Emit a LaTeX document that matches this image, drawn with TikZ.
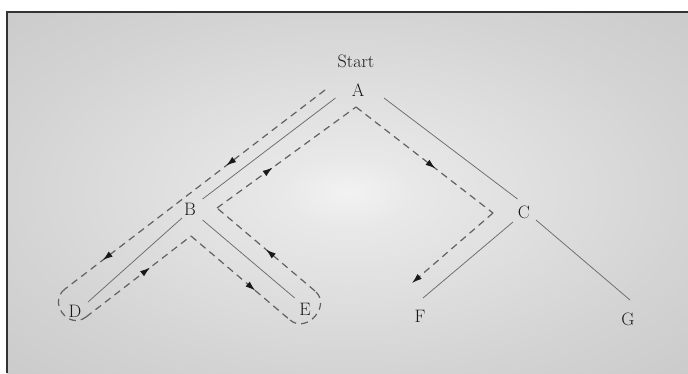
\documentclass[tikz,border=0pt]{standalone}
\usetikzlibrary{arrows.meta,decorations.markings}
\pgfdeclareradialshading{bgshade}{\pgfpoint{0bp}{0bp}}{color(0bp)=(black!5); color(5bp)=(black!9); color(25bp)=(black!17); color(50bp)=(black!25); color(75bp)=(black!28)}
\tikzset{
  lbl/.style={inner sep=0pt, text=black!90, font=\fontsize{18}{20}\selectfont},
  tree/.style={line width=0.75pt, black!58},
  tour/.style={line width=1.2pt, black!62, dash pattern=on 7pt off 5pt},
  tip/.style={-{Latex[length=10pt,width=6.5pt,color=black!90]}},
  midarrow/.style={postaction={decorate,decoration={markings,
     mark=at position #1 with {\arrow[black!90]{Latex[length=10pt,width=6.5pt]}}}}}
}
\begin{document}
\begin{tikzpicture}[x=1pt,y=-1pt]
\useasboundingbox (0,0) rectangle (688,373);
\fill[white] (0,0) rectangle (688,373);
\shade[shading=bgshade] (7,12) rectangle (688,373);
\draw[line width=1.6pt, black!80] (7,373) -- (7,12) -- (688,12);

% nodes
\node[lbl] (start) at (356,61) {Start};
\node[lbl] (A) at (358,90) {A};
\node[lbl] (B) at (190,209) {B};
\node[lbl] (C) at (524,212) {C};
\node[lbl] (D) at (75,311) {D};
\node[lbl] (E) at (305,309) {E};
\node[lbl] (F) at (420,316) {F};
\node[lbl] (G) at (628,319) {G};

% tree edges
\draw[tree] ([shift={(-22.5,8)}]A.center) -- ([shift={(12.6,-10)}]B.center);
\draw[tree] ([shift={(26,8)}]A.center) -- ([shift={(-6.5,-13)}]C.center);
\draw[tree] ([shift={(-8,9)}]B.center) -- ([shift={(13,-9)}]D.center);
\draw[tree] ([shift={(12.6,11)}]B.center) -- ([shift={(-10.3,-11)}]E.center);
\draw[tree] ([shift={(-11,10)}]C.center) -- ([shift={(3,-18)}]F.center);
\draw[tree] ([shift={(12,8)}]C.center) -- ([shift={(2,-19)}]G.center);

% tour coordinates
\coordinate (S0) at (325,90);
\coordinate (O1) at (65,289);
\coordinate (I1) at (86,317);
\coordinate (Bc) at (191,236);
\coordinate (E1) at (290,320);
\coordinate (E2) at (315,291);
\coordinate (Bc2) at (217,208);
\coordinate (Ac) at (356,107);
\coordinate (Cc) at (493,213);
\coordinate (Ft) at (412,283);

% tour
\draw[tour, midarrow=0.38, midarrow=0.855] (S0) -- (O1);
\draw[tour] (O1) .. controls (47.5,302.4) and (68.5,330.4) .. (I1);
\draw[tour, midarrow=0.61] (I1) -- (Bc);
\draw[tour, midarrow=0.65] (Bc) -- (E1);
\draw[tour] (E1) .. controls (306.8,334.2) and (331.8,305.2) .. (E2);
\draw[tour, midarrow=0.5] (E2) -- (Bc2);
\draw[tour, midarrow=0.4] (Bc2) -- (Ac);
\draw[tour, midarrow=0.58] (Ac) -- (Cc);
\draw[tour, tip] (Cc) -- (Ft);
\end{tikzpicture}
\end{document}
